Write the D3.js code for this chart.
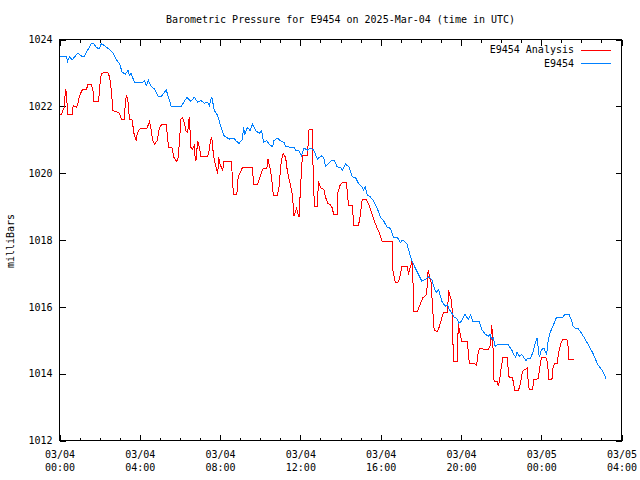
<!DOCTYPE html>
<html><head><meta charset="utf-8">
<script src="https://cdn.jsdelivr.net/npm/d3@7"></script>
<style>
body{margin:0;background:#fff}
svg text{font-family:"DejaVu Sans Mono",monospace;font-size:10px;fill:#000}
</style>
</head><body>
<svg id="chart" width="640" height="480"></svg>
<script>
// ---- data (minutes after 2025-03-04 00:00 UTC, millibars) ----
const analysisMinutes = [0,6,14,18,21,24,38,41,51,56,60,68,80,85,95,100,103,117,120,125,130,145,150,155,160,175,180,185,193,197,200,205,209,217,223,229,232,239,262,269,274,279,284,292,299,306,319,324,326,336,342,349,354,358,363,368,373,378,383,388,393,398,403,405,408,413,418,423,443,448,451,455,458,463,468,473,476,480,488,491,514,517,520,530,534,540,547,577,580,592,597,602,607,620,623,629,634,637,640,651,656,663,669,676,681,686,691,696,701,706,709,711,716,721,726,741,746,756,759,763,771,774,780,790,795,802,810,815,820,830,832,838,845,858,862,865,875,880,892,897,905,917,924,931,939,949,957,964,994,997,1004,1014,1019,1024,1040,1043,1048,1054,1057,1058,1070,1078,1086,1098,1100,1103,1106,1110,1116,1120,1130,1136,1143,1148,1160,1163,1166,1170,1173,1176,1177,1189,1192,1197,1202,1219,1225,1242,1247,1252,1257,1282,1287,1292,1295,1299,1309,1312,1315,1319,1325,1338,1341,1344,1354,1358,1361,1371,1376,1379,1384,1398,1401,1404,1414,1418,1431,1434,1441,1454,1458,1460,1463,1472,1475,1480,1487,1493,1500,1505,1517,1520,1523,1537];
const analysisPressure = [1021.77,1021.77,1021.97,1022.52,1022.42,1021.77,1021.77,1022.02,1021.97,1022.12,1022.32,1022.49,1022.49,1022.65,1022.65,1022.47,1022.15,1022.15,1022.57,1022.97,1023.00,1023.00,1022.87,1022.47,1021.87,1021.82,1021.77,1021.62,1021.62,1022.07,1022.35,1022.12,1021.62,1021.59,1021.17,1020.97,1021.17,1021.32,1021.35,1021.55,1021.29,1020.97,1020.87,1020.97,1021.37,1021.45,1021.45,1020.97,1020.77,1020.77,1020.47,1020.35,1020.42,1020.87,1021.62,1021.65,1021.52,1021.27,1021.22,1021.69,1020.77,1020.72,1020.82,1020.52,1020.37,1020.97,1020.79,1020.49,1020.49,1020.72,1020.97,1021.09,1020.75,1020.37,1020.17,1019.97,1020.47,1020.27,1020.07,1020.35,1020.35,1019.82,1019.35,1019.37,1019.87,1020.02,1020.17,1020.17,1019.67,1019.65,1019.82,1019.97,1020.12,1020.15,1020.42,1020.17,1019.87,1019.52,1019.32,1019.32,1019.57,1020.37,1020.59,1020.47,1020.07,1019.82,1019.62,1019.37,1018.72,1018.87,1018.99,1018.82,1018.69,1019.67,1020.52,1020.52,1021.32,1021.32,1019.57,1018.99,1018.99,1019.77,1019.57,1019.52,1019.29,1019.09,1019.05,1018.97,1018.75,1018.75,1019.41,1019.62,1019.72,1019.72,1019.22,1019.04,1019.04,1018.42,1018.42,1018.57,1019.22,1019.22,1019.07,1018.87,1018.62,1018.37,1018.19,1017.97,1017.97,1017.07,1016.72,1016.75,1016.97,1017.22,1017.22,1016.97,1017.17,1017.37,1016.67,1015.87,1015.87,1016.07,1016.27,1016.37,1016.97,1017.09,1016.87,1016.82,1015.87,1015.29,1015.27,1015.42,1015.67,1015.82,1015.82,1016.49,1016.37,1016.27,1016.07,1015.12,1014.37,1014.37,1015.47,1015.22,1014.97,1014.97,1014.32,1014.29,1014.24,1014.67,1014.75,1014.72,1014.82,1015.47,1015.07,1013.77,1013.77,1013.62,1013.77,1014.07,1014.47,1014.47,1014.17,1013.89,1013.89,1013.67,1013.49,1013.49,1013.62,1013.77,1014.07,1014.17,1013.77,1013.52,1013.52,1013.82,1013.85,1014.07,1014.49,1014.49,1014.37,1014.17,1013.82,1013.82,1014.17,1014.29,1014.29,1014.67,1014.95,1015.02,1015.02,1014.85,1014.42,1014.42];

const stationMinutes = [0,6,21,24,30,38,54,68,74,85,95,103,110,118,125,134,149,160,170,180,187,197,205,209,214,224,249,254,259,266,274,284,296,304,319,329,334,363,381,393,403,413,423,433,443,448,455,463,473,480,488,492,507,522,527,537,547,550,554,562,570,577,587,597,604,610,620,626,637,641,651,661,671,676,701,706,716,723,731,741,751,760,771,782,790,795,805,815,822,830,840,845,855,865,875,885,895,905,909,914,920,929,939,949,959,969,979,989,999,1009,1014,1019,1024,1029,1039,1049,1054,1063,1073,1083,1093,1103,1113,1120,1126,1133,1143,1153,1160,1165,1173,1180,1188,1194,1202,1212,1222,1229,1235,1255,1262,1272,1282,1287,1292,1297,1302,1309,1341,1346,1354,1358,1364,1368,1374,1381,1386,1394,1401,1408,1416,1424,1428,1434,1441,1448,1456,1460,1466,1475,1485,1503,1510,1523,1530,1535,1540,1550,1560,1575,1594,1609,1624,1634];
const stationPressure = [1023.49,1023.49,1023.49,1023.35,1023.49,1023.39,1023.59,1023.49,1023.49,1023.70,1023.87,1023.87,1023.77,1023.72,1023.87,1023.82,1023.70,1023.59,1023.39,1023.27,1023.02,1022.97,1023.07,1022.92,1022.99,1022.72,1022.72,1022.77,1022.62,1022.77,1022.59,1022.52,1022.29,1022.29,1022.49,1022.17,1021.99,1021.99,1022.27,1022.15,1022.27,1022.12,1022.17,1022.09,1022.12,1022.02,1022.29,1021.87,1021.72,1021.47,1021.22,1021.12,1021.02,1021.05,1020.97,1020.89,1021.02,1021.37,1021.17,1021.37,1021.27,1021.47,1021.27,1021.19,1021.27,1020.92,1020.97,1020.87,1020.79,1020.97,1021.05,1020.97,1020.92,1020.79,1020.77,1020.69,1020.67,1020.52,1020.75,1020.69,1020.75,1020.69,1020.42,1020.52,1020.47,1020.19,1020.29,1020.39,1020.37,1020.19,1020.17,1020.09,1020.27,1020.19,1019.89,1019.87,1019.67,1019.57,1019.49,1019.59,1019.35,1019.29,1019.17,1018.97,1018.69,1018.57,1018.39,1018.35,1018.07,1018.09,1018.02,1017.92,1017.99,1017.97,1017.87,1017.52,1017.37,1017.17,1016.97,1016.77,1016.82,1016.89,1016.82,1016.57,1016.42,1016.52,1016.17,1016.02,1016.07,1015.92,1015.81,1015.69,1015.65,1015.51,1015.57,1015.77,1015.62,1015.77,1015.57,1015.57,1015.32,1015.19,1015.12,1015.17,1015.02,1015.07,1014.82,1014.87,1014.87,1014.79,1014.67,1014.57,1014.49,1014.65,1014.52,1014.57,1014.52,1014.39,1014.47,1014.45,1014.67,1014.97,1015.07,1014.49,1014.72,1014.77,1014.57,1014.92,1015.22,1015.42,1015.67,1015.67,1015.77,1015.77,1015.62,1015.42,1015.37,1015.35,1015.22,1014.97,1014.62,1014.27,1014.07,1013.85];

const yTickValues = [1012,1014,1016,1018,1020,1022,1024];
const xTickHours = [0,4,8,12,16,20,24,28];
const xTickLabels = [["03/04","00:00"],["03/04","04:00"],["03/04","08:00"],["03/04","12:00"],["03/04","16:00"],["03/04","20:00"],["03/05","00:00"],["03/05","04:00"]];
const seriesNames = ["E9454 Analysis","E9454"];
const seriesColors = ["#ff0000","#0080ff"];
const titleText = "Barometric Pressure for E9454 on 2025-Mar-04 (time in UTC)";
const yLabelText = "milliBars";

// ---- drawing ----
const base = Date.UTC(2025,2,4,0,0);
const toDate = m => new Date(base + m*60000);
const L = 59.5, R = 621.5, T = 39.5, B = 440.5;

const svg = d3.select("#chart");
const x = d3.scaleUtc().domain([toDate(0), toDate(28*60)]).range([L, R]);
const y = d3.scaleLinear().domain([1012,1024]).range([B, T]);

const majorX = xTickHours.map(h => toDate(h*60));
const minorX = d3.range(0, 29).filter(h => h % 4 !== 0).map(h => toDate(h*60));

function styleAxis(g){
  g.select(".domain").remove();
  g.selectAll("line").attr("stroke","#000").attr("shape-rendering","crispEdges");
  g.attr("font-family",null).attr("font-size",null);
}

const gBottom = svg.append("g").attr("transform",`translate(0,${B})`)
  .call(d3.axisBottom(x).tickValues(majorX).tickSizeInner(-6).tickSizeOuter(0).tickPadding(8).tickFormat(""));
styleAxis(gBottom);
gBottom.selectAll(".tick").each(function(d,i){
  const t = d3.select(this).select("text").text(null).attr("dy",null).attr("y",null);
  t.append("tspan").attr("x",0).attr("y",17).text(xTickLabels[i][0]);
  t.append("tspan").attr("x",0).attr("y",30).text(xTickLabels[i][1]);
});
const gBottomMinor = svg.append("g").attr("transform",`translate(0,${B})`)
  .call(d3.axisBottom(x).tickValues(minorX).tickSizeInner(-3).tickSizeOuter(0).tickFormat(""));
styleAxis(gBottomMinor);

const gTop = svg.append("g").attr("transform",`translate(0,${T})`)
  .call(d3.axisTop(x).tickValues(majorX).tickSizeInner(-6).tickSizeOuter(0).tickFormat(""));
styleAxis(gTop);
const gTopMinor = svg.append("g").attr("transform",`translate(0,${T})`)
  .call(d3.axisTop(x).tickValues(minorX).tickSizeInner(-3).tickSizeOuter(0).tickFormat(""));
styleAxis(gTopMinor);

const gLeft = svg.append("g").attr("transform",`translate(${L},0)`)
  .call(d3.axisLeft(y).tickValues(yTickValues).tickSizeInner(-6).tickSizeOuter(0).tickPadding(7).tickFormat(d3.format("d")));
styleAxis(gLeft);
const gRight = svg.append("g").attr("transform",`translate(${R},0)`)
  .call(d3.axisRight(y).tickValues(yTickValues).tickSizeInner(-6).tickSizeOuter(0).tickFormat(""));
styleAxis(gRight);

const line = d3.line().x(d => x(toDate(d[0]))).y(d => y(d[1]));
const analysis = analysisMinutes.map((m,i) => [m, analysisPressure[i]]);
const station = stationMinutes.map((m,i) => [m, stationPressure[i]]);
svg.append("path").datum(analysis).attr("d",line).attr("fill","none")
  .attr("stroke",seriesColors[0]).attr("stroke-width",1).attr("shape-rendering","crispEdges");
svg.append("path").datum(station).attr("d",line).attr("fill","none")
  .attr("stroke",seriesColors[1]).attr("stroke-width",1).attr("shape-rendering","crispEdges");

svg.append("rect").attr("x",L).attr("y",T).attr("width",R-L).attr("height",B-T)
  .attr("fill","none").attr("stroke","#000").attr("shape-rendering","crispEdges");

svg.append("text").attr("x",(L+R)/2).attr("y",23).attr("text-anchor","middle").text(titleText);
svg.append("text").attr("transform","translate(14,241) rotate(-90)").attr("text-anchor","middle").text(yLabelText);

seriesNames.forEach((n,i) => {
  const yy = 49.5 + i*13.5;
  svg.append("text").attr("x",574).attr("y",yy).attr("dy","0.35em").attr("text-anchor","end").text(n);
  svg.append("line").attr("x1",581).attr("x2",611).attr("y1",Math.round(yy)+0.5).attr("y2",Math.round(yy)+0.5)
    .attr("stroke",seriesColors[i]).attr("shape-rendering","crispEdges");
});
</script>
</body></html>
